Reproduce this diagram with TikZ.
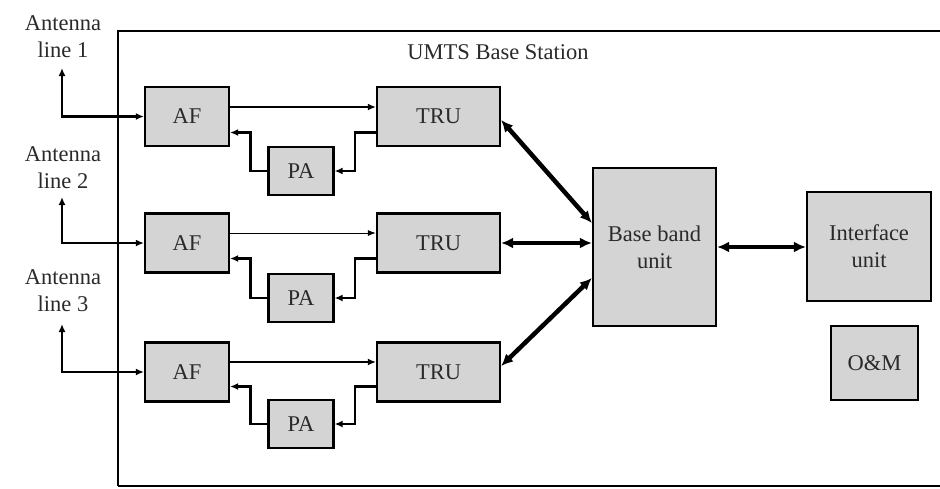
\documentclass[tikz,border=0pt]{standalone}
\usepackage{fontspec}
\setmainfont{Liberation Serif}
\usetikzlibrary{arrows.meta,calc}
\definecolor{boxgray}{HTML}{D4D4D4}
\definecolor{ink}{HTML}{2A2A2A}
\begin{document}
\begin{tikzpicture}[x=1pt,y=-1pt,
  every node/.style={font=\fontsize{22.5}{27}\selectfont, text=ink},
  unit/.style={draw=black, line width=2.2pt, fill=boxgray, inner sep=0pt, align=center},
  afbox/.style={unit, minimum width=84pt, minimum height=59pt},
  trubox/.style={unit, minimum width=123pt, minimum height=59pt},
  pabox/.style={unit, minimum width=65pt, minimum height=48pt},
  conn/.style={line width=2.3pt, -{Latex[length=8pt,width=7pt]}},
  thinconn/.style={line width=0.9pt, -{Latex[length=8pt,width=6pt]}},
  antconn/.style={line width=2.3pt, {Latex[length=8pt,width=7pt]}-{Latex[length=8pt,width=7pt]}},
  bus/.style={line width=4.5pt, {Latex[length=12pt,width=11pt]}-{Latex[length=12pt,width=11pt]}},
  label/.style={align=center, inner sep=0pt}
]
\useasboundingbox (0,0) rectangle (940,488);

% enclosure of the base station (open on the right)
\draw[line width=2.2pt] (118,486) |- (960,31);
\draw[line width=2.2pt] (118,486) -- (960,486);
\node (title) at (498,52) {UMTS Base Station};

% antenna labels
\node[label] (lab1) at (63,36.5) {Antenna\\line 1};
\node[label] (lab2) at (63,167.5) {Antenna\\line 2};
\node[label] (lab3) at (63,291) {Antenna\\line 3};
\coordinate (ant1) at (62,68);
\coordinate (ant2) at (62,197);
\coordinate (ant3) at (62,324);

% radio chains
\node[afbox] (AF1) at (187,116.5) {AF};
\node[afbox] (AF2) at (187,243) {AF};
\node[afbox] (AF3) at (187,372) {AF};
\node[trubox] (TRU1) at (438.5,116.5) {TRU};
\node[trubox] (TRU2) at (438.5,243) {TRU};
\node[trubox] (TRU3) at (438.5,372) {TRU};
\node[pabox] (PA1) at (301,171) {PA};
\node[pabox] (PA2) at (301,298) {PA};
\node[pabox] (PA3) at (301,424) {PA};

% central units
\node[unit, minimum width=123pt, minimum height=158pt] (BB) at (654.5,247) {Base band\\unit};
\node[unit, minimum width=124pt, minimum height=109pt] (IF) at (869,246.5) {Interface\\unit};
\node[unit, minimum width=87pt, minimum height=74pt] (OM) at (874.5,363) {O\&M};

% antenna feeders
\draw[antconn] (ant1) |- (AF1.west);
\draw[antconn] (ant2) |- (AF2.west);
\draw[antconn] (ant3) |- (AF3.west);

% AF -> TRU
\draw[conn] ([yshift=9.5pt]AF1.east) -- ([yshift=9.5pt]TRU1.west);
\draw[thinconn] ([yshift=10pt]AF2.east) -- ([yshift=10pt]TRU2.west);
\draw[conn] ([yshift=10pt]AF3.east) -- ([yshift=10pt]TRU3.west);

% TRU -> PA -> AF loops
\foreach \i/\d in {1/16, 2/15.5, 3/14.5}{
  \draw[conn] ([yshift=-\d pt]TRU\i.west) -- ++(-21,0) |- (PA\i.east);
  \draw[conn] (PA\i.west) -- ++(-17,0) |- ([yshift=-\d pt]AF\i.east);
}

% baseband links
\draw[bus] ([yshift=-3.5pt]TRU1.east) -- ([yshift=24pt]BB.west);
\draw[bus] (TRU2.east) -- (TRU2.east -| BB.west);
\draw[bus] ([yshift=6pt]TRU3.east) -- ([yshift=-31pt]BB.west);
\draw[bus] (BB.east) -- (BB.east -| IF.west);
\end{tikzpicture}
\end{document}
